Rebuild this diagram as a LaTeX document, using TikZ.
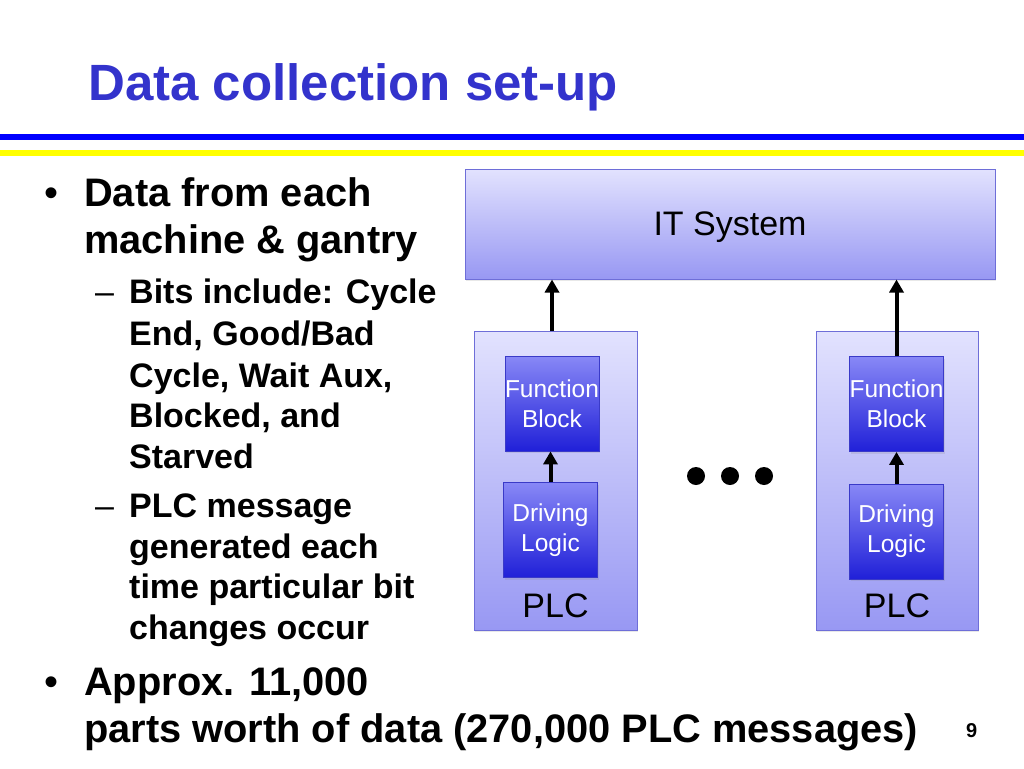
\documentclass[tikz,border=0pt]{standalone}
\usepackage{fontspec}
\setmainfont{Liberation Sans}
\usetikzlibrary{arrows.meta,shadows}

\definecolor{titleblue}{HTML}{3333CC}
\definecolor{ruleblue}{HTML}{0000FF}
\definecolor{ruleyellow}{HTML}{FFFF00}
\definecolor{paletop}{HTML}{E2E2FE}
\definecolor{palebot}{HTML}{9898F3}
\definecolor{paleedge}{HTML}{6E6ED8}
\definecolor{deeptop}{HTML}{8888F6}
\definecolor{deepbot}{HTML}{2020D8}
\definecolor{deepedge}{HTML}{3A3AC8}

\tikzset{
  slidetitle/.style={anchor=base west, inner sep=0pt, text=titleblue, font=\bfseries\fontsize{51}{60}\selectfont},
  levelone/.style={anchor=base west, inner sep=0pt, font=\bfseries\fontsize{39.8}{47}\selectfont},
  leveltwo/.style={anchor=base west, inner sep=0pt, font=\bfseries\fontsize{34}{41}\selectfont},
  bulletmark/.style={anchor=base, inner sep=0pt, font=\fontsize{40}{40}\selectfont},
  dashmark/.style={anchor=base west, inner sep=0pt, font=\fontsize{34}{41}\selectfont},
  softshadow/.style={drop shadow={opacity=0.18, shadow xshift=1pt, shadow yshift=-2pt}},
  palebox/.style={draw=paleedge, line width=1pt, top color=paletop, bottom color=palebot, inner sep=0pt, softshadow, font=\fontsize{34}{40}\selectfont},
  deepbox/.style={draw=deepedge, line width=0.8pt, top color=deeptop, bottom color=deepbot, text=white, align=center, inner sep=0pt, minimum width=94pt, minimum height=95pt, softshadow, font=\fontsize{24.5}{30}\selectfont},
  plclabel/.style={anchor=base, inner sep=0pt, font=\fontsize{34}{40}\selectfont},
  uparrow/.style={line width=4pt, -{Triangle[length=13pt,width=14pt]}}
}

\begin{document}
\begin{tikzpicture}[x=1pt,y=-1pt]
\useasboundingbox (0,0) rectangle (1024,768);

% title and rules
\node[slidetitle] (title) at (88,100) {Data collection set-up};
\fill[ruleblue] (0,134) rectangle (1024,140);
\fill[ruleyellow] (0,150) rectangle (1024,156);

% bullets
\node[bulletmark] (dotA) at (52,206) {•};
\node[levelone] (lineA1) at (84,206) {Data from each};
\node[levelone] (lineA2) at (84,253) {machine \& gantry};
\node[dashmark] (dashA) at (95,303) {–};
\node[leveltwo] (subA1) at (129,303) {Bits include: Cycle};
\node[leveltwo] (subA2) at (129,345) {End, Good/Bad};
\node[leveltwo] (subA3) at (129,387) {Cycle, Wait Aux,};
\node[leveltwo] (subA4) at (129,427) {Blocked, and};
\node[leveltwo] (subA5) at (129,468) {Starved};
\node[dashmark] (dashB) at (95,517) {–};
\node[leveltwo] (subB1) at (129,517) {PLC message};
\node[leveltwo] (subB2) at (129,558) {generated each};
\node[leveltwo] (subB3) at (129,598) {time particular bit};
\node[leveltwo] (subB4) at (129,639) {changes occur};
\node[bulletmark] (dotB) at (52,695) {•};
\node[levelone] (lineB1) at (84,695) {Approx. 11,000};
\node[levelone] (lineB2) at (84,742) {parts worth of data (270,000 PLC messages)};
\node[anchor=base west, inner sep=0pt, font=\bfseries\fontsize{20}{20}\selectfont] (pagenum) at (966,737) {9};

% diagram
\node[palebox, minimum width=530pt, minimum height=110pt, text depth=0pt] (itsys) at (730,224) {IT System};
\node[palebox, minimum width=163pt, minimum height=299pt] (plcL) at (555.5,480.5) {};
\node[palebox, minimum width=162pt, minimum height=299pt] (plcR) at (897,480.5) {};
\node[plclabel] (plcLtxt) at (555.5,617) {PLC};
\node[plclabel] (plcRtxt) at (897,617) {PLC};

\node[deepbox] (fbL) at (552,403.5) {Function\\Block};
\node[deepbox] (dlL) at (550.5,530) {Driving\\Logic};
\node[deepbox] (fbR) at (896.5,404) {Function\\Block};
\node[deepbox] (dlR) at (896.5,531.5) {Driving\\Logic};

\draw[uparrow] (dlL.north) -- (dlL.north |- fbL.south);
\draw[uparrow] (dlR.north) -- (dlR.north |- fbR.south);
\draw[uparrow] (fbL.north |- plcL.north) -- (fbL.north |- itsys.south);
\draw[uparrow] (fbR.north) -- (fbR.north |- itsys.south);

\foreach \x in {696,730,764}
  \fill (\x,476) circle (9pt);
\end{tikzpicture}
\end{document}
